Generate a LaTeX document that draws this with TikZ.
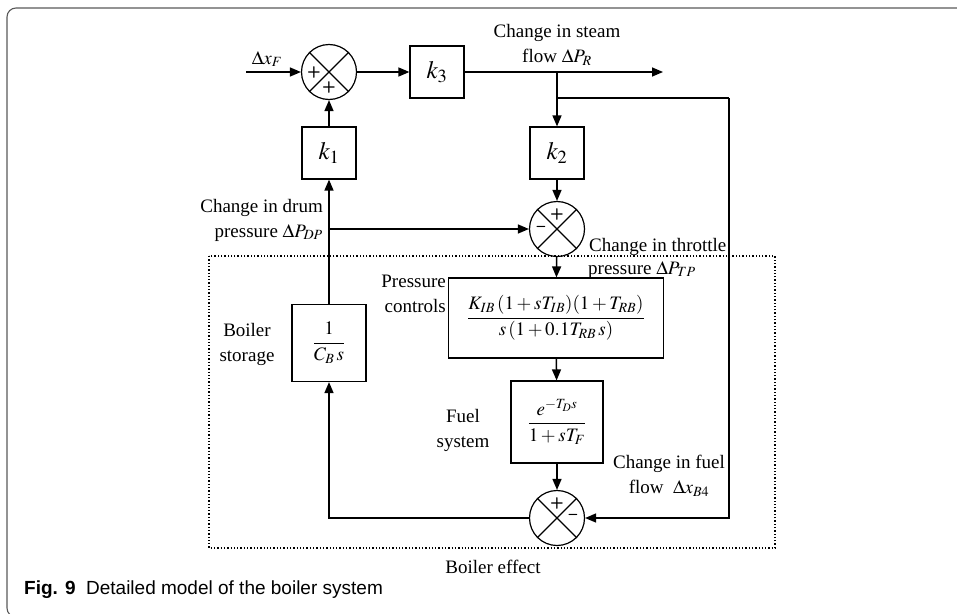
\documentclass[tikz,border=0pt]{standalone}
\usepackage{amsmath}
\usepackage{mathptmx}
\usepackage[no-math]{fontspec}
\setmainfont{Liberation Serif}
\newfontfamily\capsans{Liberation Sans}
\usepackage{tikz}
\usetikzlibrary{arrows.meta,positioning,calc}

\begin{document}
\begin{tikzpicture}[x=1pt,y=-1pt,font=\fontsize{19}{25}\selectfont,
  blk/.style={draw,line width=1.2pt,minimum width=54pt,minimum height=52pt,inner sep=2pt},
  kblk/.style={blk,font=\fontsize{25}{28}\selectfont},
  sumc/.style={draw,circle,line width=1.2pt,minimum size=55pt,inner sep=0pt},
  arr/.style={line width=1.5pt,-{Triangle[length=11pt,width=9pt]}},
  ln/.style={line width=1.5pt},
  lbl/.style={inner sep=0pt},
  sgn/.style={font=\sffamily\bfseries\fontsize{16}{16}\selectfont,inner sep=0pt}]
  \useasboundingbox (0,0) rectangle (957,613);
  \draw[black!65,line width=1.1pt,rounded corners=9pt] (970,8) -- (7,8) -- (7,617) -- (970,617);
  \draw[dotted,line width=1.3pt] (209,256) rectangle (775,548);
  \node[sumc] (s1) at (329,72) {}; \node[kblk] (k3) at (437,72) {$k_3$};
  \node[kblk] (k1) at (329,153) {$k_1$}; \node[kblk] (k2) at (557,153) {$k_2$};
  \node[sumc] (s2) at (557,229) {};
  \node[blk,minimum width=215pt,minimum height=80pt] (pc) at (556,318)
      {$\dfrac{K_{IB}\left(1+sT_{IB}\right)\!\left(1+T_{RB}\right)}{s\left(1+0.1T_{RB}\,s\right)}$};
  \node[blk,minimum width=92pt,minimum height=82pt] (fs) at (557,422) {$\dfrac{e^{-T_D s}}{1+sT_F}$};
  \node[sumc] (s3) at (557,518) {};
  \node[blk,minimum width=74pt,minimum height=77pt] (bs) at (329,343) {$\dfrac{1}{C_B\,s}$};
  \foreach \c in {s1,s2,s3}{\draw[line width=1.2pt] (\c.north west) -- (\c.south east) (\c.north east) -- (\c.south west);}
  \foreach \c/\dx/\dy/\t [count=\i] in {s1/-15/0/+,s1/0/15/+,s2/0/-15/+,s2/-16/0/\textendash,s3/0/-15/+,s3/16/-1/\textendash}
      {\node[sgn] (sg\i) at ([shift={(\dx,\dy)}]\c) {\t};}
  \coordinate (in) at (246,72); \coordinate (out) at (663,72); \coordinate (br) at (557,72);
  \coordinate (fb) at (729,98); \coordinate (dp) at (329,229);
  \draw[arr] (in) -- (s1); \draw[arr] (s1) -- (k3); \draw[arr] (k3) -- (out);
  \draw[arr] (br) -- (k2); \draw[ln] (br |- fb) -- (fb); \draw[arr] (fb) |- (s3);
  \draw[arr] (k2) -- (s2); \draw[arr] (s2) -- (pc); \draw[arr] (pc) -- (fs); \draw[arr] (fs) -- (s3);
  \draw[arr] (s3) -| (bs); \draw[arr] (bs) -- (k1); \draw[arr] (k1) -- (s1); \draw[arr] (dp) -- (s2);
  \node[lbl] (lxf) at (267,59) {$\Delta x_F$};
  \node[lbl,align=center] (lsf) at (557,45) {Change in steam\\flow $\Delta P_R$};
  \node[lbl,align=right,anchor=east] (ldp) at (323,220) {Change in drum\\pressure $\Delta P_{DP}$};
  \node[lbl,anchor=base west] (ltp) at (589,251) {Change in throttle};
  \node[lbl,anchor=base west] (ltp2) at (588,274) {pressure $\Delta P_{TP}$};
  \node[lbl,align=right,anchor=east] (lpc) at (446,294) {Pressure\\controls};
  \node[lbl,align=center] (lbs) at (247,344) {Boiler\\storage};
  \node[lbl,align=center] (lfs) at (463,430) {Fuel\\system};
  \node[lbl,align=center] (lff) at (669,476) {Change in fuel\\flow\ \ $\Delta x_{B4}$};
  \node[lbl] (lbe) at (493,567) {Boiler effect};
  \node[lbl,anchor=base west,font=\capsans\fontsize{19}{22}\selectfont] (cap) at (24,594)
      {\textbf{Fig. 9}\ \ Detailed model of the boiler system};
\end{tikzpicture}
\end{document}
